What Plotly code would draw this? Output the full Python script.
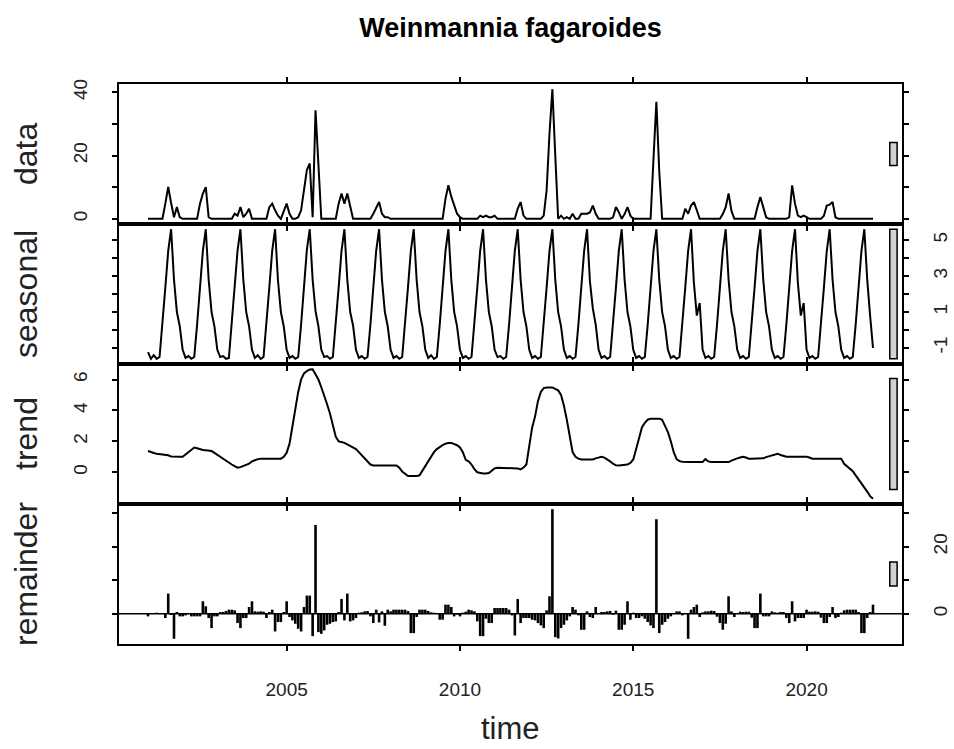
import plotly.graph_objects as go
from plotly.subplots import make_subplots

FONT = "Arial, Liberation Sans, sans-serif"

title_text = "Weinmannia fagaroides"
panel_labels = ["data", "seasonal", "trend", "remainder"]
x_label = "time"
start_year = 2001
periods_per_year = 12

# monthly values, one row per year (2001 ... 2021)
data_values = [
    0, 0, 0, 0, 0, 0, 4.8, 10.1, 5.0, 0.5, 3.7, 0.5,
    0, 0, 0, 0, 0, 0, 4.8, 8.0, 10.0, 0.5, 0, 0,
    0, 0, 0, 0, 0, 0, 1.6, 1.0, 3.7, 0.5, 1.6, 3.2,
    0, 0, 0, 0, 0, 0, 3.7, 4.8, 2.7, 1.0, 0, 2.7,
    4.8, 1.6, 0, 0, 0.5, 2.7, 9.0, 15.4, 17.5, 0.5, 34.3, 17.5,
    0, 0, 0, 0, 0, 0, 4.8, 8.0, 4.8, 8.0, 4.0, 0,
    0, 0, 0, 0, 0, 0, 1.6, 3.7, 5.3, 1.6, 0.5, 0.5,
    0, 0, 0, 0, 0, 0, 0, 0, 0, 0, 0, 0,
    0, 0, 0, 0, 0, 0, 0, 6.4, 10.6, 7.0, 4.2, 1.6,
    0.5, 0, 0, 0, 0, 0, 0, 1.0, 0.5, 1.0, 0.5, 0.5,
    1.0, 0, 0, 0, 0, 0, 0, 0, 3.2, 5.3, 1.0, 0,
    0, 0, 0, 0, 0, 1.0, 9.0, 27.0, 41.0, 20.0, 0, 1.0,
    0, 0.5, 0, 1.6, 0, 0, 1.6, 1.6, 1.6, 2.0, 4.2, 1.6,
    0, 0, 0, 0, 0, 0.5, 3.7, 2.1, 0, 1.5, 3.7, 1.0,
    0, 0, 0, 0, 0, 0, 0, 19.0, 37.0, 15.0, 0, 0,
    0, 0, 0, 0, 0, 0, 3.2, 1.6, 4.2, 5.3, 2.7, 0,
    0, 0, 0, 0, 0, 0, 0, 1.5, 3.7, 8.0, 2.5, 0,
    0, 0, 0, 0, 0, 0, 0, 3.7, 6.9, 3.7, 0.5, 0,
    0, 0, 0, 0, 0, 0, 0.5, 10.6, 4.8, 1.0, 0.5, 1.0,
    0.5, 0, 0, 0, 0, 0, 1.0, 4.2, 4.5, 5.3, 0.5, 0,
    0, 0, 0, 0, 0, 0, 0, 0, 0, 0, 0, 0,
]

seasonal_values = [
    -1.23, -1.6, -1.4, -1.6, -1.5, 0.28, 2.35, 4.4, 5.6, 2.8, 1.0, 0.2,
    -1.1, -1.55, -1.45, -1.6, -1.5, 0.3, 2.3, 4.4, 5.6, 2.8, 1.0, 0.2,
    -1.1, -1.5, -1.45, -1.6, -1.55, 0.3, 2.35, 4.4, 5.6, 2.8, 1.0, 0.2,
    -1.1, -1.55, -1.4, -1.6, -1.5, 0.3, 2.35, 4.4, 5.6, 2.75, 1.0, 0.2,
    -1.1, -1.55, -1.45, -1.6, -1.5, 0.3, 2.35, 4.45, 5.6, 2.8, 1.05, 0.2,
    -1.1, -1.5, -1.45, -1.6, -1.5, 0.3, 2.35, 4.4, 5.6, 2.8, 1.0, 0.25,
    -1.1, -1.55, -1.45, -1.6, -1.5, 0.3, 2.3, 4.4, 5.6, 2.8, 1.0, 0.2,
    -1.1, -1.55, -1.45, -1.6, -1.5, 0.3, 2.35, 4.4, 5.6, 2.8, 1.0, 0.2,
    -1.1, -1.55, -1.4, -1.6, -1.5, 0.3, 2.35, 4.4, 5.6, 2.8, 1.0, 0.2,
    -1.1, -1.55, -1.45, -1.6, -1.5, 0.3, 2.35, 4.4, 5.6, 2.8, 1.0, 0.2,
    -1.1, -1.5, -1.45, -1.6, -1.5, 0.3, 2.35, 4.4, 5.6, 2.8, 1.0, 0.2,
    -1.1, -1.55, -1.45, -1.6, -1.5, 0.3, 2.35, 4.4, 5.6, 2.8, 1.0, 0.2,
    -1.1, -1.55, -1.45, -1.6, -1.5, 0.3, 2.35, 4.4, 5.6, 2.7, 1.2, 0.3,
    -1.1, -1.55, -1.45, -1.6, -1.5, 0.3, 2.35, 4.4, 5.6, 2.8, 1.0, 0.2,
    -1.1, -1.55, -1.45, -1.6, -1.5, 0.3, 2.35, 4.4, 5.6, 2.8, 1.0, 0.2,
    -1.1, -1.55, -1.45, -1.6, -1.5, 0.3, 2.35, 4.4, 5.6, 2.6, 0.8, 1.5,
    -1.1, -1.55, -1.45, -1.6, -1.5, 0.3, 2.35, 4.4, 5.6, 2.8, 1.0, 0.2,
    -1.1, -1.55, -1.45, -1.6, -1.5, 0.3, 2.35, 4.4, 5.6, 2.8, 1.0, 0.2,
    -1.1, -1.55, -1.45, -1.6, -1.5, 0.3, 2.35, 4.4, 5.6, 2.6, 0.8, 1.5,
    -1.1, -1.55, -1.45, -1.6, -1.5, 0.3, 2.35, 4.4, 5.6, 2.8, 1.0, 0.2,
    -1.1, -1.55, -1.45, -1.6, -1.5, 0.3, 2.35, 4.4, 5.6, 2.8, 0.8, -1.0,
]

trend_values = [
    1.37, 1.33, 1.25, 1.2, 1.18, 1.16, 1.15, 1.1, 1.02, 1.0, 1.0, 1.0,
    1.0, 1.15, 1.3, 1.5, 1.6, 1.55, 1.48, 1.44, 1.42, 1.4, 1.37, 1.25,
    1.12, 1.0, 0.9, 0.75, 0.62, 0.5, 0.4, 0.3, 0.33, 0.4, 0.46, 0.55,
    0.7, 0.8, 0.85, 0.87, 0.87, 0.87, 0.87, 0.87, 0.87, 0.87, 0.88, 1.0,
    1.26, 1.85, 2.9, 4.2, 5.2, 6.0, 6.4, 6.55, 6.65, 6.67, 6.3, 6.0,
    5.5, 5.0, 4.4, 3.8, 3.0, 2.3, 2.0, 1.95, 1.9, 1.8, 1.7, 1.65,
    1.5, 1.3, 1.1, 0.9, 0.7, 0.5, 0.44, 0.44, 0.44, 0.44, 0.44, 0.44,
    0.44, 0.44, 0.44, 0.3, 0.05, -0.1, -0.25, -0.25, -0.25, -0.25, -0.2, 0.1,
    0.45, 0.7, 1.0, 1.3, 1.5, 1.65, 1.75, 1.85, 1.9, 1.9, 1.85, 1.75,
    1.6, 1.3, 0.8, 0.7, 0.5, 0.2, 0.0, -0.05, -0.08, -0.08, -0.05, 0.1,
    0.25, 0.29, 0.29, 0.29, 0.29, 0.29, 0.29, 0.29, 0.25, 0.18, 0.3, 0.5,
    1.6, 2.9, 3.6, 4.6, 5.2, 5.45, 5.49, 5.49, 5.49, 5.4, 5.3, 5.0,
    4.3, 3.4, 2.2, 1.3, 1.0, 0.88, 0.83, 0.83, 0.83, 0.83, 0.83, 0.9,
    0.95, 1.0, 0.95, 0.85, 0.7, 0.55, 0.45, 0.44, 0.45, 0.48, 0.5, 0.6,
    0.83, 1.5, 2.3, 2.9, 3.2, 3.4, 3.47, 3.47, 3.47, 3.47, 3.4, 3.0,
    2.6, 2.0, 1.3, 0.85, 0.72, 0.68, 0.66, 0.66, 0.66, 0.66, 0.66, 0.66,
    0.66, 0.85, 0.7, 0.66, 0.66, 0.66, 0.66, 0.66, 0.66, 0.66, 0.75, 0.85,
    0.9, 0.95, 1.0, 0.95, 0.88, 0.87, 0.87, 0.87, 0.87, 0.9, 0.98, 1.04,
    1.08, 1.15, 1.2, 1.12, 1.05, 1.0, 1.0, 1.0, 1.0, 1.0, 1.0, 1.0,
    1.0, 0.95, 0.88, 0.87, 0.87, 0.87, 0.87, 0.87, 0.87, 0.87, 0.87, 0.87,
    0.87, 0.55, 0.4, 0.25, 0.07, -0.2, -0.45, -0.68, -0.95, -1.25, -1.55, -1.72,
]

remainder_values = [
    -0.8, 0.2, 0.1, 0.3, 0.2, 0.2, -1.3, 6.0, -0.4, -7.5, 0.5, -0.8,
    -0.8, -0.5, 0.1, -0.8, -0.8, -0.8, -0.8, 3.7, 2.2, -1.3, -4.3, -0.8,
    -0.8, 0.5, 0.5, 0.8, 1.2, 1.2, 1.0, -2.8, -4.3, -1.3, -1.3, 2.0,
    3.7, 0.7, 0.6, 0.7, 0.6, -1.3, 0.5, 1.2, -5.3, -2.5, -2.5, 0.5,
    3.7, -1.0, -2.0, -3.0, -4.5, -5.3, 2.0, 5.4, 5.4, -6.7, 26.5, -5.5,
    -6.0, -5.0, -3.3, -3.0, -2.5, -2.3, 0.5, 4.4, -2.0, 6.0, -2.3, -2.0,
    -1.3, 0.3, 0.4, 0.7, 0.8, -0.8, -2.8, 1.2, -2.6, 0.7, -3.6, 1.2,
    0.7, 1.2, 1.2, 1.2, 1.2, 1.2, 0.8, -5.8, -5.8, -1.0, 1.2, 1.2,
    1.2, 0.8, 0.4, 0.3, 0.0, -1.8, -1.8, 2.7, 2.7, 2.0, -0.8, -0.3,
    -0.8, 0.3, 0.6, 1.2, 1.0, 0.7, -2.3, -6.7, -6.7, -1.5, -2.8, -2.8,
    1.7, 1.7, 1.7, 1.7, 1.7, 1.2, -0.5, -6.5, 4.4, -2.8, -1.3, -1.3,
    -1.3, -1.8, -2.0, -2.8, -3.5, -4.3, 1.0, 5.2, 31.2, -7.0, -7.4, -4.3,
    -3.3, -2.0, -0.8, 2.0, 1.2, -0.5, -4.8, -4.8, 0.7, -1.0, -1.3, 2.0,
    0.2, 0.5, 0.5, 0.7, 0.8, -0.3, 0.9, -4.8, -4.8, -3.3, 3.7, -1.8,
    0.3, -1.3, -1.3, -0.8, -1.5, -2.5, -3.5, -4.3, 28.2, -5.8, -3.3, -2.5,
    -1.5, -0.8, 0.2, 0.7, 0.7, -0.5, 0.2, -7.5, 1.2, 2.0, 2.7, -1.0,
    0.4, 0.7, 0.7, 0.9, 0.8, -0.9, -2.8, -4.8, -3.0, 5.2, 0.7, -1.0,
    0.2, 0.6, 0.5, 0.6, 0.6, -1.2, -4.3, -4.3, 6.0, -0.8, -0.8, -0.8,
    0.7, 0.4, 0.3, 0.5, 0.5, -1.3, -2.8, 3.7, -2.3, -1.3, -1.3, -1.3,
    1.2, 0.6, 0.6, 0.7, 0.6, -1.2, -2.8, -2.8, -1.0, 2.0, -1.3, -1.0,
    0.3, 1.0, 1.2, 1.2, 1.2, 1.2, 0.5, -5.8, -5.8, -1.3, 0.5, 2.7,
]

x_tick_values = [2005, 2010, 2015, 2020]
data_ticks = [0, 10, 20, 30, 40]
data_tick_text = ["0", "", "20", "", "40"]
seasonal_ticks = [-1, 0, 1, 2, 3, 4, 5]
seasonal_tick_text = ["-1", "", "1", "", "3", "", "5"]
trend_ticks = [0, 2, 4, 6]
trend_tick_text = ["0", "2", "4", "6"]
remainder_ticks = [0, 10, 20, 30]
remainder_tick_text = ["0", "", "20", ""]

# ---------------------------------------------------------------
time = [start_year + i / periods_per_year for i in range(len(data_values))]
series = [data_values, seasonal_values, trend_values, remainder_values]


def padded(lo, hi, frac=0.04):
    d = hi - lo
    return [lo - frac * d, hi + frac * d]


x_range = padded(time[0], time[-1])
y_ranges = [padded(min(s), max(s)) for s in series]
range_bar_height = min(max(s) - min(s) for s in series)

fig = make_subplots(rows=4, cols=1, vertical_spacing=0)

for i in range(3):
    fig.add_trace(go.Scatter(x=time, y=series[i], mode="lines",
                             line=dict(color="black", width=2.0),
                             hoverinfo="skip", showlegend=False), row=i + 1, col=1)

seg_x, seg_y = [], []
for t, r in zip(time, remainder_values):
    seg_x += [t, t, None]
    seg_y += [0, r, None]
fig.add_trace(go.Scatter(x=seg_x, y=seg_y, mode="lines",
                         line=dict(color="black", width=2.6),
                         hoverinfo="skip", showlegend=False), row=4, col=1)

axis_common = dict(showline=True, linecolor="black", linewidth=2, mirror="ticks",
                   ticks="outside", ticklen=5, tickwidth=1.5, tickcolor="black",
                   showgrid=False, zeroline=False, automargin=False,
                   tickfont=dict(family=FONT, size=19, color="#222"))

tick_sets = [(data_ticks, data_tick_text, "left"),
             (seasonal_ticks, seasonal_tick_text, "right"),
             (trend_ticks, trend_tick_text, "left"),
             (remainder_ticks, remainder_tick_text, "right")]

for i in range(4):
    fig.update_xaxes(range=x_range, tickvals=x_tick_values,
                     ticktext=[str(v) for v in x_tick_values],
                     showticklabels=(i == 3), ticklabelstandoff=22,
                     row=i + 1, col=1, **axis_common)
    tv, tt, side = tick_sets[i]
    fig.update_yaxes(range=y_ranges[i], tickvals=tv, ticktext=tt, side=side,
                     tickangle=-90, ticklabelstandoff=(17 if side == "left" else 15),
                     row=i + 1, col=1, **axis_common)

# range bars
dx = (x_range[1] - x_range[0]) / 64
shapes = []
for i, s in enumerate(series):
    xref = "x" if i == 0 else f"x{i + 1}"
    yref = "y" if i == 0 else f"y{i + 1}"
    mid = (min(s) + max(s)) / 2
    shapes.append(dict(type="rect", xref=xref, yref=yref,
                       x0=x_range[1] - dx, x1=x_range[1] - 0.4 * dx,
                       y0=mid - range_bar_height / 2, y1=mid + range_bar_height / 2,
                       fillcolor="#D3D3D3", line=dict(color="black", width=1.5)))
# abline h = 0 in the remainder panel
shapes.append(dict(type="line", xref="x4 domain", yref="y4", x0=0, x1=1, y0=0, y1=0,
                   line=dict(color="black", width=1.5)))

W, H = 954, 749
L, R, T, B = 119, 52, 84, 105
plot_h = H - T - B

annotations = []
for i, lab in enumerate(panel_labels):
    yc = 1 - (i + 0.5) / 4
    annotations.append(dict(text=lab, xref="paper", yref="paper",
                            x=-(L - 26) / (W - L - R), y=yc, textangle=-90,
                            showarrow=False, xanchor="center", yanchor="middle",
                            font=dict(family=FONT, size=32, color="#222")))
annotations.append(dict(text=x_label, xref="paper", yref="paper",
                        x=0.5, y=-(728 - (H - B)) / plot_h, showarrow=False,
                        xanchor="center", yanchor="middle",
                        font=dict(family=FONT, size=31, color="#222")))

fig.update_layout(
    width=W, height=H,
    margin=dict(l=L, r=R, t=T, b=B),
    paper_bgcolor="white", plot_bgcolor="white",
    title=dict(text="<b>" + title_text + "</b>", x=(L + (W - L - R) / 2) / W,
               xanchor="center", y=1 - 28 / H, yanchor="middle",
               font=dict(family=FONT, size=27, color="black")),
    shapes=shapes, annotations=annotations, showlegend=False,
)

fig.write_html("out.html")
